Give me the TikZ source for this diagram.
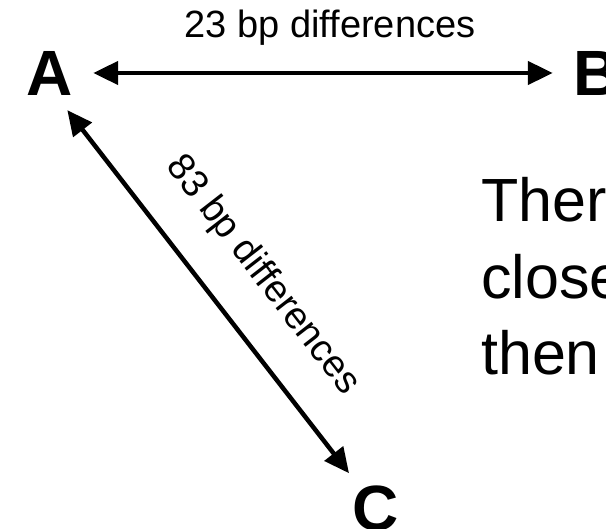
\documentclass[tikz,border=0pt]{standalone}
\usepackage{fontspec}
\setmainfont{Liberation Sans}
\usetikzlibrary{positioning,arrows.meta,calc}

\begin{document}
\begin{tikzpicture}[
  x=1pt, y=-1pt,
  letter/.style={font=\fontsize{64}{64}\selectfont\bfseries, inner sep=0pt},
  dist/.style={font=\fontsize{38}{38}\selectfont, inner sep=0pt},
  dbl/.style={{Triangle[length=25pt,width=23pt]}-{Triangle[length=25pt,width=23pt]},
              line width=4.5pt},
  note/.style={font=\fontsize{61}{76.5}\selectfont, align=left, inner sep=0pt,
               anchor=base west},
]
  \clip (0,0) rectangle (606,529);

  % ---- the three sequences ---------------------------------------------------
  \node[letter] (A) at (49.5,73) {A};
  \node[letter] (B) at (596.4,73) {B};
  \node[letter] (C) at (376,508) {C};

  % ---- pairwise differences --------------------------------------------------
  \draw[dbl, shorten <=20.4pt, shorten >=20.3pt] (A) --
    node[dist, above=25pt, pos=0.514] (ab) {23 bp differences} (B);
  \draw[dbl, shorten <=47pt, shorten >=44pt] ([xshift=-11pt]A.center) --
    node[dist, sloped, above=33pt, pos=0.54] (ac) {83 bp differences} (C.center);

  % ---- text on the right, cut by the frame -----------------------------------
  \node[note] (msg) at (481,375) {There\\closer\\then};
\end{tikzpicture}
\end{document}
